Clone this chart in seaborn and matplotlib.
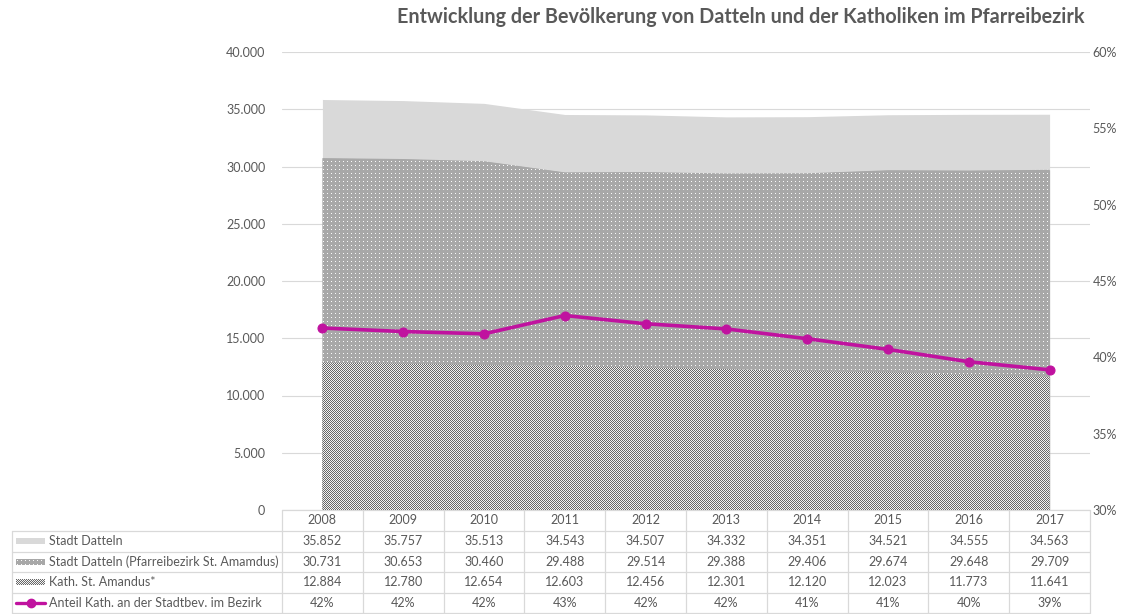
import numpy as np
import pandas as pd
import matplotlib
matplotlib.use("Agg")
import matplotlib.pyplot as plt
from matplotlib.patches import Rectangle
from matplotlib.lines import Line2D
import seaborn as sns

# data
years = [2008, 2009, 2010, 2011, 2012, 2013, 2014, 2015, 2016, 2017]
stadt = [35852, 35757, 35513, 34543, 34507, 34332, 34351, 34521, 34555, 34563]
pfarrei = [30731, 30653, 30460, 29488, 29514, 29388, 29406, 29674, 29648, 29709]
kath = [12884, 12780, 12654, 12603, 12456, 12301, 12120, 12023, 11773, 11641]
anteil = [41.92, 41.69, 41.54, 42.74, 42.20, 41.86, 41.22, 40.52, 39.71, 39.18]

names = ["Stadt Datteln",
         "Stadt Datteln (Pfarreibezirk St. Amamdus)",
         "Kath. St. Amandus*",
         "Anteil Kath. an der Stadtbev. im Bezirk"]
title = "Entwicklung der Bevölkerung von Datteln und der Katholiken im Pfarreibezirk"

df = pd.DataFrame({"Jahr": years, "Anteil": anteil})

TXT = "#595959"
GRID = "#d9d9d9"
C_STADT = "#d9d9d9"
MAGENTA = "#c0129f"
FS = 9


def texture(h, w, kind):
    # pixel pattern like the Excel fill patterns
    i, j = np.mgrid[0:h, 0:w]
    if kind == "dots":
        img = np.full((h, w), 168.0)
        img[(i % 4 == 1) & (j % 4 == 1)] = 250
    else:
        img = np.where((i + j) % 2 == 0, 104.0, 242.0)
    img = np.repeat(img[:, :, None], 3, axis=2) / 255.0
    return img


sns.set_theme(style="white")
plt.rcParams["font.family"] = ["Lato", "DejaVu Sans"]

W, H = 1131, 614
fig = plt.figure(figsize=(W / 100, H / 100), dpi=100)

# plot area in pixels
x0, x1 = 282, 1090
y_top, y_bot = 52, 510
pw, ph = x1 - x0, y_bot - y_top
ax = fig.add_axes([x0 / W, 1 - y_bot / H, pw / W, ph / H])
xl = (years[0] - 0.5, years[-1] + 0.5)
ymax = 40000
ax.set_xlim(*xl)
ax.set_ylim(0, ymax)

ax.fill_between(years, stadt, color=C_STADT, linewidth=0, zorder=2)
for vals, kind, z in [(pfarrei, "dots", 0.5), (kath, "checker", 0.6)]:
    poly = ax.fill_between(years, vals, color="#aaaaaa", linewidth=0, zorder=3)
    im = fig.figimage(texture(ph, pw, kind), xo=x0, yo=H - y_bot, zorder=z)
    im.set_clip_path(poly.get_paths()[0], poly.get_transform())

ax.set_yticks(range(0, ymax + 1, 5000))
ax.set_yticklabels([f"{v:,}".replace(",", ".") for v in range(0, ymax + 1, 5000)],
                   fontsize=FS, color=TXT)
ax.set_xticks([])
ax.grid(axis="y", color=GRID, linewidth=0.8)
ax.set_axisbelow(True)
for s in ax.spines.values():
    s.set_visible(False)
ax.tick_params(axis="y", length=0, pad=12)

# right axis: share
ax2 = ax.twinx()
ax2.set_zorder(1)
sns.lineplot(data=df, x="Jahr", y="Anteil", ax=ax2, color=MAGENTA,
             linewidth=2.6, marker="o", markersize=6.5,
             markeredgecolor=MAGENTA, zorder=5)
ax2.set_ylim(30, 60)
ax2.set_xlim(*xl)
ax2.set_yticks(range(30, 61, 5))
ax2.set_yticklabels([f"{v}%" for v in range(30, 61, 5)], fontsize=FS, color=TXT)
ax2.tick_params(axis="y", length=0, pad=2)
ax2.set_xlabel("")
ax2.set_ylabel("")
ax.set_ylabel("")
for s in ax2.spines.values():
    s.set_visible(False)

fig.text(741 / W, 1 - 17 / H, title, ha="center", va="center",
         fontsize=14.2, fontweight="bold", color=TXT)

# data table below the plot
tax = fig.add_axes([0, 0, 1, 1])
tax.set_xlim(0, W)
tax.set_ylim(H, 0)
tax.axis("off")

col_w = pw / len(years)
row_lines = [510, 531, 551.5, 572, 592.5, 613]
left = 12

tax.plot([x0, x1], [row_lines[0]] * 2, color=GRID, lw=0.9)
for yl in row_lines[1:]:
    tax.plot([left, x1], [yl] * 2, color=GRID, lw=0.9)
for i in range(len(years) + 1):
    tax.plot([x0 + i * col_w] * 2, [row_lines[0], row_lines[-1]], color=GRID, lw=0.9)
tax.plot([left, left], [row_lines[1], row_lines[-1]], color=GRID, lw=0.9)


def cy(r):
    return (row_lines[r] + row_lines[r + 1]) / 2


for i, yr in enumerate(years):
    cx = x0 + (i + 0.5) * col_w
    tax.text(cx, cy(0), str(yr), ha="center", va="center", fontsize=FS, color=TXT)
    rows = [f"{stadt[i]:,}".replace(",", "."),
            f"{pfarrei[i]:,}".replace(",", "."),
            f"{kath[i]:,}".replace(",", "."),
            f"{anteil[i]:.0f}%"]
    for r, val in enumerate(rows):
        tax.text(cx, cy(r + 1), val, ha="center", va="center", fontsize=FS, color=TXT)

# legend keys in the row label column
key_x, key_w, key_h = 16, 29, 6
yc = cy(1)
tax.add_patch(Rectangle((key_x, yc - key_h / 2), key_w, key_h,
                        facecolor=C_STADT, linewidth=0))
for r, kind in [(2, "dots"), (3, "checker")]:
    yc = cy(r)
    fig.figimage(texture(key_h, key_w, kind), xo=key_x,
                 yo=int(round(H - yc - key_h / 2)), zorder=0.5)
yc = cy(4)
tax.add_line(Line2D([key_x, key_x + key_w], [yc, yc], color=MAGENTA, lw=2.4))
tax.add_line(Line2D([key_x + key_w / 2], [yc], color=MAGENTA, marker="o",
                    markersize=6, linestyle="none"))
for r, name in enumerate(names):
    tax.text(49, cy(r + 1), name, ha="left", va="center", fontsize=FS, color=TXT)

fig.savefig("out.png", dpi=100)
